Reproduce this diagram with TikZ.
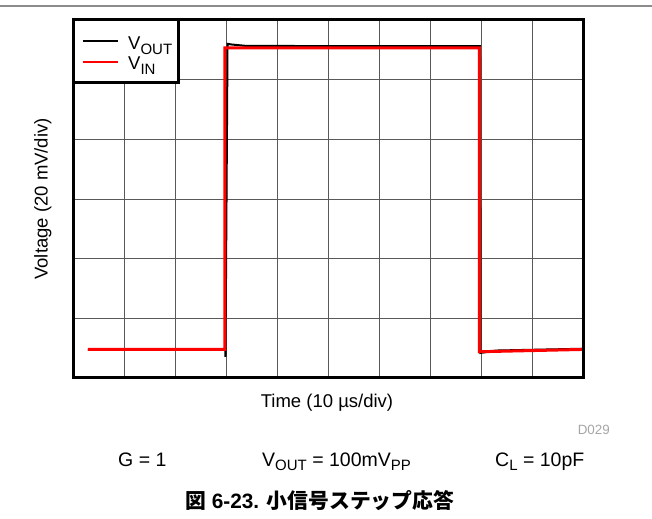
\documentclass[tikz,border=0pt]{standalone}
\usepackage{fontspec}
\setmainfont{Liberation Sans}
\newfontfamily\cjkfont{Noto Sans CJK JP}
\newcommand{\lo}[1]{\raisebox{-0.22em}{\fontsize{15}{15}\selectfont #1}}
\begin{document}
\begin{tikzpicture}[x=51pt, y=59.667pt, font=\fontsize{18.5}{22}\selectfont]
\useasboundingbox (-1.4314,-2.3631) rectangle (11.353,6.335);
\draw[line width=2pt, black!45] (-1.4314,6.226) -- (11.353,6.226);
\draw[line width=0.9pt, black!65, step={(1,1)}] (0,0) grid (10,6);
\draw[line width=2pt, black] (0.294,0.47) -- (2.99,0.47) -- (2.99,0.352) -- (3.03,5.6) -- (3.1,5.59) -- (3.4,5.565) -- (7.98,5.56) -- (7.99,0.42) -- (8.3,0.46) -- (9.98,0.49);
\draw[line width=3pt, red] (0.294,0.478) -- (2.98,0.478) -- (2.98,5.531) -- (7.97,5.531) -- (7.97,0.44) -- (9.98,0.478);
\draw[line width=3pt, fill=white] (0,6) rectangle (2.078,4.944);
\draw[line width=2pt, black] (0.196,5.647) -- (0.882,5.647);
\draw[line width=2pt, red] (0.196,5.301) -- (0.882,5.301);
\node[anchor=base west, inner sep=0] (leg0) at (1.078,5.497) {V\lo{OUT}};
\node[anchor=base west, inner sep=0] (leg1) at (1.078,5.162) {V\lo{IN}};
\draw[line width=3pt] (0,0) rectangle (10,6);
\node[rotate=90, inner sep=0] (txt0) at (-0.59,3.0) {Voltage (20 mV/div)};
\node[anchor=base, inner sep=0] (txt1) at (4.98,-0.491) {Time (10 µs/div)};
\node[anchor=base east, inner sep=0, black!35, font=\fontsize{13.4}{16}\selectfont] (txt2) at (10.53,-0.955) {D029};
\node[anchor=base west, inner sep=0, font=\fontsize{19.5}{23}\selectfont] (txt3) at (0.882,-1.486) {G = 1};
\node[anchor=base west, inner sep=0, font=\fontsize{19.5}{23}\selectfont] (txt4) at (3.706,-1.486) {V\lo{OUT} = 100mV\lo{PP}};
\node[anchor=base west, inner sep=0, font=\fontsize{19.5}{23}\selectfont] (txt5) at (8.275,-1.486) {C\lo{L} = 10pF};
\node[anchor=base west, inner sep=0, font=\bfseries\fontsize{20.8}{25}\selectfont] (txt6) at (2.196,-2.18) {{\cjkfont 図} 6-23. {\cjkfont 小信号ステップ応答}};
\end{tikzpicture}
\end{document}
